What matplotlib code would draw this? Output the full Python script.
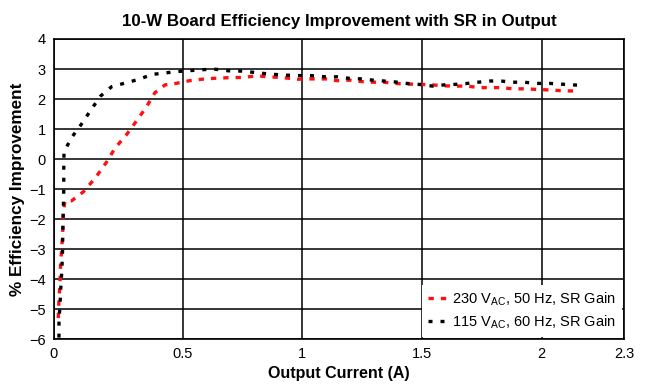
import matplotlib
matplotlib.use('Agg')
import matplotlib.pyplot as plt

plt.rcParams['font.family'] = ['Liberation Sans', 'DejaVu Sans']

# 230 VAC, 50 Hz curve
i_230 = [-0.02, -0.017, -0.013, -0.01, -0.005, -0.001, 0.001, 0.008, 0.036, 0.085,
         0.134, 0.183, 0.217, 0.266, 0.308, 0.347, 0.384, 0.426, 0.472, 0.528,
         0.58, 0.631, 0.691, 0.751, 0.807, 0.865, 0.921, 0.979, 1.036, 1.098,
         1.146, 1.196, 1.248, 1.294, 1.341, 1.387, 1.436, 1.485, 1.545, 1.592,
         1.642, 1.69, 1.74, 1.784, 1.83, 1.882, 1.931, 1.979, 2.039, 2.098, 2.158]
g_230 = [-5.3, -4.7, -4.14, -3.48, -2.92, -2.37, -1.81, -1.39, -1.39, -1.09,
         -0.64, -0.09, 0.36, 0.82, 1.28, 1.72, 2.21, 2.47, 2.52, 2.61,
         2.66, 2.69, 2.71, 2.72, 2.77, 2.74, 2.71, 2.66, 2.67, 2.67,
         2.61, 2.63, 2.58, 2.56, 2.56, 2.52, 2.5, 2.49, 2.47, 2.44,
         2.43, 2.43, 2.38, 2.38, 2.38, 2.34, 2.34, 2.32, 2.3, 2.27, 2.27]

# 115 VAC, 60 Hz curve
i_115 = [-0.017, -0.017, -0.013, -0.01, -0.005, -0.002, -0.001, 0.001, 0.003, 0.003,
         0.004, 0.036, 0.074, 0.116, 0.157, 0.203, 0.263, 0.319, 0.371, 0.419,
         0.468, 0.519, 0.573, 0.628, 0.691, 0.751, 0.807, 0.865, 0.921, 0.979,
         1.036, 1.098, 1.146, 1.196, 1.248, 1.294, 1.341, 1.387, 1.436, 1.485,
         1.545, 1.592, 1.642, 1.69, 1.735, 1.784, 1.83, 1.879, 1.928, 1.975,
         2.035, 2.094, 2.153]
g_115 = [-5.95, -5.37, -4.92, -4.37, -3.7, -3.03, -2.37, -1.7, -1.03, -0.37,
         0.24, 0.72, 1.13, 1.63, 2.1, 2.41, 2.54, 2.66, 2.82, 2.86,
         2.91, 2.94, 2.97, 3.0, 2.94, 2.93, 2.88, 2.83, 2.8, 2.78,
         2.78, 2.74, 2.74, 2.69, 2.67, 2.63, 2.6, 2.57, 2.52, 2.49,
         2.43, 2.47, 2.49, 2.52, 2.56, 2.6, 2.6, 2.56, 2.56, 2.52,
         2.52, 2.49, 2.46]

x_ticks = [-0.038, 0.5, 1, 1.5, 2, 2.346]
x_labels = ['0', '0.5', '1', '1.5', '2', '2.3']
y_ticks = list(range(-6, 5))

fig = plt.figure(figsize=(6.5, 3.88), dpi=100)
ax = fig.add_axes([0.083, 0.126, 0.8775, 0.7735])

ax.plot(i_230, g_230, color='#ff1010', lw=2.4, dashes=(1.6, 2.1),
        label='230 V$_{\\mathregular{AC}}$, 50 Hz, SR Gain', zorder=3)
ax.plot(i_115, g_115, color='black', lw=2.4, dashes=(1.2, 2.4),
        label='115 V$_{\\mathregular{AC}}$, 60 Hz, SR Gain', zorder=3)

ax.set_xlim(x_ticks[0], x_ticks[-1])
ax.set_ylim(-6, 4)
ax.set_xticks(x_ticks, x_labels)
ax.set_yticks(y_ticks)
ax.grid(True, color='black', lw=1.1)
ax.set_axisbelow(True)
for s in ax.spines.values():
    s.set_linewidth(1.2)
ax.tick_params(length=0, labelsize=10.5, pad=6)

ax.set_title('10-W Board Efficiency Improvement with SR in Output',
             fontsize=12.2, fontweight='bold', pad=9)
ax.set_xlabel('Output Current (A)', fontsize=11.5, fontweight='bold', labelpad=3)
ax.set_ylabel('% Efficiency Improvement', fontsize=12.3, fontweight='bold', labelpad=3)

leg = ax.legend(loc='lower right', fontsize=10.5, frameon=True, fancybox=False,
                handlelength=1.4, handletextpad=0.3, borderaxespad=0.15,
                labelspacing=0.35)
leg.get_frame().set_facecolor('white')
leg.get_frame().set_edgecolor('none')
leg.get_frame().set_alpha(1)

fig.savefig('out.png', dpi=100)
